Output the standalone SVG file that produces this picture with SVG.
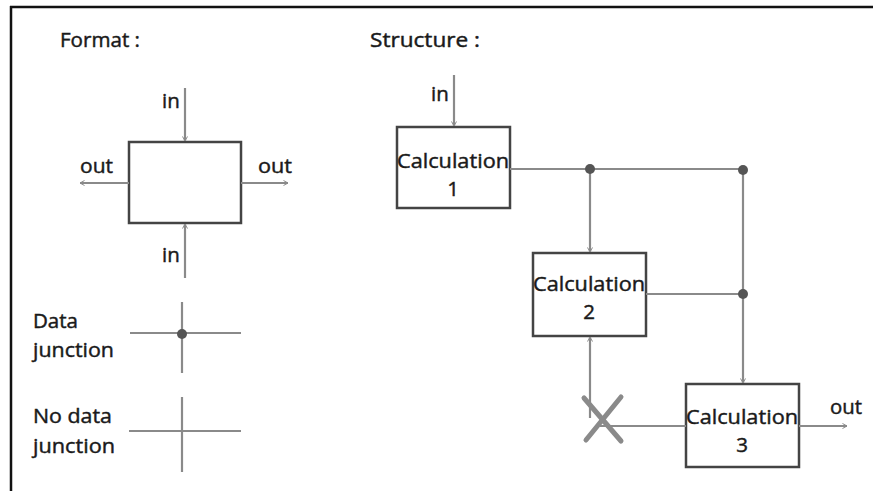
<svg xmlns="http://www.w3.org/2000/svg" width="874" height="491" viewBox="0 0 874 491">
<style>
text{font-family:"Open Sans","Noto Sans","Liberation Sans",sans-serif;font-size:20.5px;fill:#1a1a1a;stroke:#1a1a1a;stroke-width:0.45}
.box{fill:#fff;stroke:#444;stroke-width:2.5}
.ln{stroke:#8a8a8a;stroke-width:2.2;fill:none}
.arr{stroke:#8a8a8a;stroke-width:2.2;fill:none;marker-end:url(#ah)}
.dot{fill:#555}
.mid{text-anchor:middle}
</style>
<defs>
<marker id="ah" viewBox="0 0 10 10" refX="9" refY="5" markerWidth="5" markerHeight="5" orient="auto" markerUnits="userSpaceOnUse" overflow="visible">
<path d="M0,0 L9,5 L0,10" fill="none" stroke="#8a8a8a" stroke-width="2"/>
</marker>
</defs>
<rect x="0" y="0" width="874" height="491" fill="#fff"/>
<g id="frame">
<line x1="10" y1="7" x2="873" y2="7" stroke="#111" stroke-width="2.5"/>
<line x1="11" y1="6" x2="11" y2="491" stroke="#111" stroke-width="2.5"/>
</g>
<g id="titles">
<text x="60" y="47" textLength="80" lengthAdjust="spacingAndGlyphs">Format :</text>
<text x="370" y="47" textLength="110" lengthAdjust="spacingAndGlyphs">Structure :</text>
</g>
<g id="format-node">
<rect class="box" x="129" y="142" width="112" height="81"/>
</g>
<g id="format-labels">
<text x="162" y="108">in</text>
<text x="162" y="262">in</text>
<text x="80" y="173" textLength="33" lengthAdjust="spacingAndGlyphs">out</text>
<text x="258" y="173" textLength="34" lengthAdjust="spacingAndGlyphs">out</text>
</g>
<g id="data-junction">
<text x="33" y="328">Data</text>
<text x="33" y="357" textLength="81" lengthAdjust="spacingAndGlyphs">junction</text>
<line class="ln" x1="130" y1="333" x2="241" y2="333"/>
<line class="ln" x1="182" y1="302" x2="182" y2="373"/>
<circle class="dot" cx="182" cy="334" r="5"/>
</g>
<g id="no-data-junction">
<text x="33" y="423" textLength="79" lengthAdjust="spacingAndGlyphs">No data</text>
<text x="33" y="453" textLength="82" lengthAdjust="spacingAndGlyphs">junction</text>
<line class="ln" x1="129" y1="431" x2="241" y2="431"/>
<line class="ln" x1="182" y1="397" x2="182" y2="472"/>
</g>
<g id="calc1">
<rect class="box" x="397" y="127" width="113" height="81"/>
<text class="mid" x="453" y="168" textLength="112" lengthAdjust="spacingAndGlyphs">Calculation</text>
<text class="mid" x="453" y="196">1</text>
</g>
<g id="calc2">
<rect class="box" x="533" y="253" width="113" height="83"/>
<text class="mid" x="589" y="291" textLength="112" lengthAdjust="spacingAndGlyphs">Calculation</text>
<text class="mid" x="589" y="319">2</text>
</g>
<g id="calc3">
<rect class="box" x="686" y="384" width="113" height="83"/>
<text class="mid" x="742" y="424" textLength="112" lengthAdjust="spacingAndGlyphs">Calculation</text>
<text class="mid" x="742" y="452">3</text>
</g>
<g id="structure-labels">
<text x="431" y="101">in</text>
<text x="830" y="414" textLength="32" lengthAdjust="spacingAndGlyphs">out</text>
</g>
<g id="connectors">
<line class="arr" x1="185" y1="88" x2="185" y2="141"/>
<line class="arr" x1="185" y1="278" x2="185" y2="224"/>
<line class="arr" x1="129" y1="183" x2="80" y2="183"/>
<line class="arr" x1="241" y1="183" x2="288" y2="183"/>
<line class="arr" x1="454" y1="75" x2="454" y2="126"/>
<line class="ln" x1="510" y1="169" x2="743" y2="169"/>
<line class="arr" x1="590" y1="169" x2="590" y2="252"/>
<line class="arr" x1="743" y1="169" x2="743" y2="383"/>
<line class="ln" x1="646" y1="294" x2="743" y2="294"/>
<line class="arr" x1="590" y1="418" x2="590" y2="337"/>
<line class="ln" x1="600" y1="426" x2="686" y2="426"/>
<line class="arr" x1="799" y1="426" x2="847" y2="426"/>
<circle class="dot" cx="590" cy="169" r="5"/>
<circle class="dot" cx="743" cy="170" r="5"/>
<circle class="dot" cx="743" cy="294" r="5"/>
<g stroke="#8a8a8a" stroke-width="5" stroke-linecap="round">
<line x1="584" y1="398" x2="621" y2="441"/>
<line x1="621" y1="397" x2="586" y2="440"/>
</g>
</g>
</svg>
